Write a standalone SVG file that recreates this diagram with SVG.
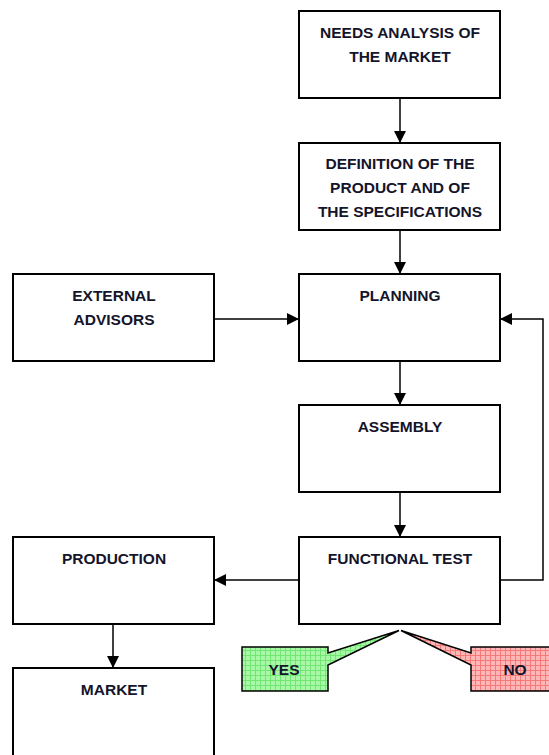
<svg xmlns="http://www.w3.org/2000/svg" width="549" height="755" viewBox="0 0 549 755">
  <style>
    .box { fill: #ffffff; stroke: #000000; stroke-width: 2; }
    .lbl { font-family: "Liberation Sans", Arial, sans-serif; font-weight: bold; font-size: 15.5px; fill: #14142a; text-anchor: middle; }
    .edge { fill: none; stroke: #000000; stroke-width: 1.5; }
    .call { stroke: #000000; stroke-width: 1.5; stroke-linejoin: miter; }
  </style>
  <defs>
    <marker id="arrow" viewBox="0 0 12 12" refX="12" refY="6" markerWidth="12" markerHeight="12" markerUnits="userSpaceOnUse" orient="auto">
      <path d="M0,0 L12,6 L0,12 Z" fill="#000000"/>
    </marker>
    <pattern id="gridGreen" width="5" height="5" patternUnits="userSpaceOnUse">
      <rect width="5" height="5" fill="#a8f8a8"/>
      <path d="M0,0.5 H5 M0.5,0 V5" stroke="#72e672" stroke-width="1"/>
    </pattern>
    <pattern id="gridRed" width="5" height="5" patternUnits="userSpaceOnUse">
      <rect width="5" height="5" fill="#ffb6b6"/>
      <path d="M0,0.5 H5 M0.5,0 V5" stroke="#f47a7a" stroke-width="1"/>
    </pattern>
  </defs>

  <rect width="549" height="755" fill="#ffffff"/>

  <!-- connectors -->
  <g id="connectors">
    <line class="edge" x1="400" y1="98" x2="400" y2="143" marker-end="url(#arrow)"/>
    <line class="edge" x1="400" y1="230" x2="400" y2="274" marker-end="url(#arrow)"/>
    <line class="edge" x1="214" y1="319" x2="299" y2="319" marker-end="url(#arrow)"/>
    <line class="edge" x1="400" y1="361" x2="400" y2="405" marker-end="url(#arrow)"/>
    <line class="edge" x1="400" y1="492" x2="400" y2="537" marker-end="url(#arrow)"/>
    <line class="edge" x1="299" y1="580" x2="214" y2="580" marker-end="url(#arrow)"/>
    <polyline class="edge" points="500,580 543,580 543,319 500,319" marker-end="url(#arrow)"/>
    <line class="edge" x1="113" y1="624" x2="113" y2="668" marker-end="url(#arrow)"/>
  </g>

  <g id="needs">
    <rect class="box" x="299" y="11" width="201" height="87"/>
    <text class="lbl" x="400" y="38">NEEDS ANALYSIS OF</text>
    <text class="lbl" x="400" y="62">THE MARKET</text>
  </g>

  <g id="definition">
    <rect class="box" x="299" y="143" width="201" height="87"/>
    <text class="lbl" x="400" y="169">DEFINITION OF THE</text>
    <text class="lbl" x="400" y="193">PRODUCT AND OF</text>
    <text class="lbl" x="400" y="217">THE SPECIFICATIONS</text>
  </g>

  <g id="advisors">
    <rect class="box" x="13" y="274" width="201" height="87"/>
    <text class="lbl" x="114" y="301">EXTERNAL</text>
    <text class="lbl" x="114" y="325">ADVISORS</text>
  </g>

  <g id="planning">
    <rect class="box" x="299" y="274" width="201" height="87"/>
    <text class="lbl" x="400" y="301">PLANNING</text>
  </g>

  <g id="assembly">
    <rect class="box" x="299" y="405" width="201" height="87"/>
    <text class="lbl" x="400" y="432">ASSEMBLY</text>
  </g>

  <g id="functional-test">
    <rect class="box" x="299" y="537" width="201" height="87"/>
    <text class="lbl" x="400" y="564">FUNCTIONAL TEST</text>
  </g>

  <g id="production">
    <rect class="box" x="13" y="537" width="201" height="87"/>
    <text class="lbl" x="114" y="564">PRODUCTION</text>
  </g>

  <g id="market">
    <rect class="box" x="13" y="668" width="201" height="100"/>
    <text class="lbl" x="114" y="695">MARKET</text>
  </g>

  <g id="yes">
    <path class="call" fill="url(#gridGreen)" d="M242,647 H328 V653 L399,630.5 L328,665 V691 H242 Z"/>
    <text class="lbl" x="284" y="675">YES</text>
  </g>

  <g id="no">
    <path class="call" fill="url(#gridRed)" d="M471,647 H560 V691 H471 V665 L401,630.5 L471,653 Z"/>
    <text class="lbl" x="515" y="675">NO</text>
  </g>
</svg>
